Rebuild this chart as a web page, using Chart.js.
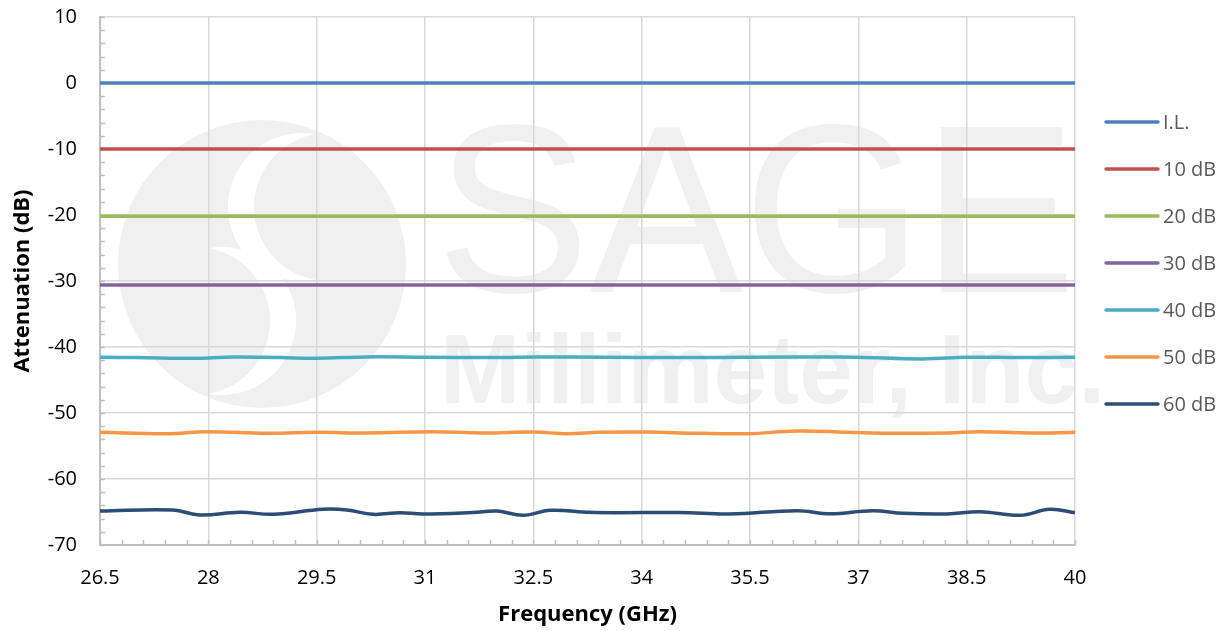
<!DOCTYPE html>
<html>
<head>
<meta charset="utf-8">
<title>Attenuation vs Frequency</title>
<script src="https://cdn.jsdelivr.net/npm/chart.js"></script>
<style>
  html, body { margin: 0; padding: 0; background: #fff; }
  #wrap { width: 1225px; height: 631px; position: relative; }
</style>
</head>
<body>
<div id="wrap"><canvas id="attChart"></canvas></div>
<script>
// axis ticks
const xTicks = [26.5, 28, 29.5, 31, 32.5, 34, 35.5, 37, 38.5, 40];
const yTicks = [-70, -60, -50, -40, -30, -20, -10, 0, 10];

// flat traces share a coarse frequency grid
const freqBase = [26.5, 28, 29.5, 31, 32.5, 34, 35.5, 37, 38.5, 40];
const attIL  = [0, 0, 0, 0, 0, 0, 0, 0, 0, 0];
const att10  = [-10, -10, -10, -10, -10, -10, -10, -10, -10, -10];
const att20  = [-20.2, -20.2, -20.2, -20.2, -20.2, -20.2, -20.2, -20.2, -20.2, -20.2];
const att30  = [-30.6, -30.6, -30.6, -30.6, -30.6, -30.6, -30.6, -30.6, -30.6, -30.6];

const freq40 = [26.5, 27.0, 27.9, 28.35, 29.0, 29.5, 30.2, 31.0, 32.0, 32.5, 33.5, 34.5, 35.5, 36.7, 37.0, 37.9, 38.5, 39.25, 40];
const att40  = [-41.55, -41.6, -41.7, -41.5, -41.6, -41.7, -41.5, -41.55, -41.6, -41.5, -41.55, -41.6, -41.55, -41.5, -41.55, -41.8, -41.55, -41.6, -41.55];

const freq50 = [26.5, 27.43, 27.98, 28.81, 29.5, 30.2, 31.11, 31.8, 32.5, 32.97, 33.42, 34.07, 34.77, 35.46, 36.15, 36.84, 37.54, 38.23, 38.69, 39.38, 40];
const att50  = [-52.92, -53.14, -52.83, -53.08, -52.92, -53.03, -52.83, -53.03, -52.88, -53.14, -52.92, -52.88, -53.08, -53.14, -52.73, -52.92, -53.08, -53.03, -52.83, -53.03, -52.92];

const freq60 = [26.5, 27.51, 27.88, 28.44, 28.9, 29.59, 29.92, 30.28, 30.65, 30.97, 31.66, 32.0, 32.36, 32.73, 33.28, 33.6, 34.53, 35.22, 36.15, 36.61, 37.2, 37.62, 38.23, 38.68, 39.24, 39.65, 40];
const att60  = [-64.85, -64.7, -65.45, -65.05, -65.35, -64.59, -64.7, -65.35, -65.11, -65.3, -65.08, -64.85, -65.5, -64.74, -65.05, -65.11, -65.08, -65.3, -64.8, -65.26, -64.8, -65.2, -65.3, -64.95, -65.5, -64.59, -65.11];

const seriesNames  = ['I.L.', '10 dB', '20 dB', '30 dB', '40 dB', '50 dB', '60 dB'];
const seriesColors = ['#4F81BD', '#C0504D', '#9BBB59', '#8064A2', '#4BACC6', '#F79646', '#2C4D75'];

function pts(xs, ys) {
  return xs.map((x, i) => ({ x: x, y: ys[i] }));
}

const seriesData = [
  pts(freqBase, attIL), pts(freqBase, att10), pts(freqBase, att20), pts(freqBase, att30),
  pts(freq40, att40), pts(freq50, att50), pts(freq60, att60)
];

const FONT = "'Open Sans', sans-serif";

// faint company logo behind the plot
const watermark = {
  id: 'watermark',
  beforeDraw(chart) {
    const ctx = chart.ctx;
    const gray = '#f0f0f0';
    ctx.save();
    ctx.beginPath();
    ctx.arc(262, 264, 144, 0, Math.PI * 2);
    ctx.fillStyle = gray;
    ctx.fill();
    ctx.clip();
    const disc = (cx, cy, r, c) => { ctx.beginPath(); ctx.arc(cx, cy, r, 0, Math.PI * 2); ctx.fillStyle = c; ctx.fill(); };
    disc(302, 207, 74, '#fff');
    disc(328, 207, 74, gray);
    disc(222, 321, 74, '#fff');
    disc(196, 321, 74, gray);
    ctx.restore();

    ctx.save();
    ctx.fillStyle = gray;
    ctx.textBaseline = 'alphabetic';
    ctx.font = '240px "Liberation Sans"';
    let w = ctx.measureText('SAGE').width;
    ctx.translate(436, 292);
    ctx.scale(640 / w, 1);
    ctx.fillText('SAGE', 0, 0);
    ctx.restore();

    ctx.save();
    ctx.fillStyle = gray;
    ctx.font = 'bold 98px "Liberation Sans"';
    w = ctx.measureText('Millimeter, Inc.').width;
    ctx.translate(440, 403);
    ctx.scale(665 / w, 1);
    ctx.fillText('Millimeter, Inc.', 0, 0);
    ctx.restore();
  }
};

// small inside tick marks between the labelled ticks
const minorTicks = {
  id: 'minorTicks',
  beforeDatasetsDraw(chart) {
    const { ctx, chartArea, scales } = chart;
    const x = scales.x, y = scales.y;
    ctx.save();
    ctx.strokeStyle = '#bfbfbf';
    ctx.lineWidth = 1.5;
    ctx.beginPath();
    for (let v = y.min; v <= y.max + 1e-6; v += 2) {
      const py = Math.round(y.getPixelForValue(v)) + 0.5;
      ctx.moveTo(chartArea.left, py);
      ctx.lineTo(chartArea.left + 5, py);
    }
    const steps = Math.round((x.max - x.min) / 0.3);
    for (let i = 0; i <= steps; i++) {
      const px = Math.round(x.getPixelForValue(x.min + i * 0.3)) + 0.5;
      ctx.moveTo(px, chartArea.bottom);
      ctx.lineTo(px, chartArea.bottom - 5);
    }
    ctx.stroke();
    ctx.restore();
  }
};

// legend on the right, drawn by hand for exact spacing
const sideLegend = {
  id: 'sideLegend',
  afterDraw(chart) {
    const ctx = chart.ctx;
    ctx.save();
    ctx.font = '20px ' + FONT;
    ctx.textBaseline = 'middle';
    chart.data.datasets.forEach((ds, i) => {
      const yy = 122 + i * 47;
      ctx.strokeStyle = ds.borderColor;
      ctx.lineWidth = 3.5;
      ctx.lineCap = 'round';
      ctx.beginPath();
      ctx.moveTo(1106, yy);
      ctx.lineTo(1158, yy);
      ctx.stroke();
      ctx.fillStyle = '#595959';
      ctx.fillText(ds.label, 1163, yy + 1);
    });
    ctx.restore();
  }
};

const ctx = document.getElementById('attChart').getContext('2d');
new Chart(ctx, {
  type: 'line',
  data: {
    datasets: seriesNames.map((name, i) => ({
      label: name,
      data: seriesData[i],
      borderColor: seriesColors[i],
      backgroundColor: seriesColors[i],
      borderWidth: 3.5,
      pointRadius: 0,
      tension: 0.4,
      fill: false
    }))
  },
  options: {
    responsive: true,
    maintainAspectRatio: false,
    animation: false,
    layout: { padding: { left: 0, right: 150, top: 17, bottom: 0 } },
    plugins: {
      legend: { display: false },
      tooltip: { enabled: false }
    },
    scales: {
      x: {
        type: 'linear',
        min: 26.5,
        max: 40,
        afterBuildTicks: (scale) => { scale.ticks = xTicks.map(v => ({ value: v })); },
        afterFit: (scale) => { scale.height = 86; },
        grid: { color: '#d9d9d9', lineWidth: 1.5, drawTicks: false },
        border: { color: '#bfbfbf', width: 2 },
        ticks: {
          color: '#000',
          font: { family: FONT, size: 20 },
          padding: 21,
          maxRotation: 0,
          callback: (v) => String(v)
        },
        title: {
          display: true,
          text: 'Frequency (GHz)',
          color: '#000',
          font: { family: FONT, size: 22, weight: 'bold' },
          padding: { top: 0, bottom: 3 }
        }
      },
      y: {
        min: -70,
        max: 10,
        afterBuildTicks: (scale) => { scale.ticks = yTicks.map(v => ({ value: v })); },
        afterFit: (scale) => {
          scale.width = 100;
          scale.paddingTop = 12;
          scale.paddingBottom = 0;
        },
        grid: { color: '#d9d9d9', lineWidth: 1.5, drawTicks: false },
        border: { color: '#bfbfbf', width: 2 },
        ticks: {
          color: '#000',
          font: { family: FONT, size: 20 },
          padding: 23
        },
        title: {
          display: true,
          text: 'Attenuation (dB)',
          color: '#000',
          font: { family: FONT, size: 22, weight: 'bold' },
          padding: { top: 10, bottom: 0 }
        }
      }
    }
  },
  plugins: [watermark, minorTicks, sideLegend]
});
</script>
</body>
</html>
